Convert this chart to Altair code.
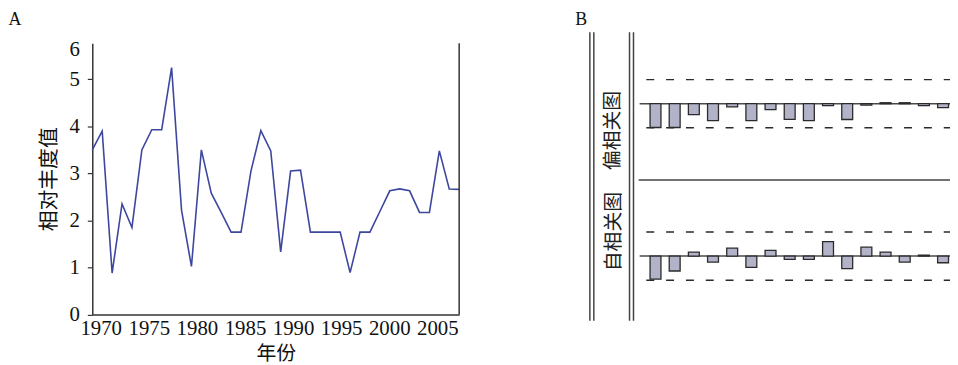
import altair as alt
import pandas as pd

# ---------------- data ----------------
years = list(range(1970, 2008))
abundance = [3.5, 3.9, 0.88, 2.35, 1.85, 3.5, 3.93, 3.93, 5.25, 2.22,
             1.02, 3.5, 2.58, 2.17, 1.75, 1.75, 3.05, 3.91, 3.48, 1.33,
             3.05, 3.07, 1.75, 1.75, 1.75, 1.75, 0.89, 1.75, 1.75, 2.19,
             2.63, 2.67, 2.63, 2.17, 2.17, 3.48, 2.67, 2.66]
x_ticks = [1970, 1975, 1980, 1985, 1990, 1995, 2000, 2005]
y_ticks = [0, 1, 2, 3, 4, 5, 5.64]

lags = list(range(1, 17))
pacf = [-0.316, -0.316, -0.145, -0.224, -0.043, -0.224, -0.08, -0.207,
        -0.224, -0.026, -0.21, -0.02, 0.013, 0.013, -0.026, -0.053]
acf = [-0.307, -0.198, 0.053, -0.079, 0.105, -0.149, 0.075, -0.044,
       -0.044, 0.193, -0.167, 0.118, 0.053, -0.079, 0.013, -0.088]
conf = [0.32, -0.32]
zero = [0.0]

panel_labels = ["A", "B"]
row_titles = ["偏相关图", "自相关图"]

W, H = 950, 357
SERIF = "Liberation Serif"
CJK = "Noto Sans CJK SC"
INK = "#333333"

dfA = pd.DataFrame({"year": years, "value": abundance})
dfP = pd.DataFrame({"lag": lags, "r": pacf})
dfC = pd.DataFrame({"lag": lags, "r": acf})
dfConf = pd.DataFrame({"c": conf})
dfZero = pd.DataFrame({"z": zero})

# ---------------- panel A ----------------
lineA = alt.Chart(dfA).mark_line(color="#3d479e", strokeWidth=1.6).encode(
    x=alt.X("year:Q",
            scale=alt.Scale(domain=[1970, 2007], range=[85, 455], nice=False, zero=False),
            axis=alt.Axis(values=x_ticks, format="d", ticks=False, grid=False,
                          labelFont=SERIF, labelFontSize=21, labelColor="#111",
                          labelPadding=3,
                          labelOffset={"expr": "8.5 - 0.3 * (datum.value - 1970)"},
                          labelFlush=False, labelOverlap=False,
                          domainColor=INK, domainWidth=1.5,
                          title="年份", titleFont=CJK, titleFontSize=20,
                          titleFontWeight="normal", titleColor="#111", titlePadding=5,
                          offset=-(H - 307.5))),
    y=alt.Y("value:Q",
            scale=alt.Scale(domain=[0, 5.77], range=[307.5, 34], nice=False, zero=False),
            axis=alt.Axis(values=y_ticks,
                          labelExpr="datum.value > 5.5 ? '6' : datum.label",
                          tickSize=5, tickColor=INK, tickWidth=1.2,
                          tickOpacity={"condition": {"test": "datum.value > 5.5", "value": 0}, "value": 1},
                          grid=False, labelFont=SERIF, labelFontSize=21, labelColor="#111",
                          labelPadding=8, labelFlush=False, labelOverlap=False,
                          domainColor=INK, domainWidth=1.5,
                          title="相对丰度值", titleFont=CJK, titleFontSize=21,
                          titleFontWeight="normal", titleColor="#111", titlePadding=10,
                          offset=-85)),
)
borderA = alt.Chart().mark_rule(color=INK, strokeWidth=1.5).encode(
    x=alt.value(455), y=alt.value(34), y2=alt.value(307.5))

# ---------------- panel B ----------------
def corr_panel(df, zero_px):
    unit = 75.9
    yscale = alt.Scale(domain=[-1, 1], range=[zero_px + unit, zero_px - unit], nice=False, zero=False)
    xscale = alt.Scale(domain=[1, 16], range=[648, 948], nice=False, zero=False)
    bars = alt.Chart(df).mark_bar(width=11, fill="#b2b2c9", stroke="#2b2b2b", strokeWidth=1.3).encode(
        x=alt.X("lag:Q", scale=xscale, axis=None),
        y=alt.Y("r:Q", scale=yscale, axis=None),
    )
    zline = alt.Chart(dfZero).mark_rule(color="#4a4a4a", strokeWidth=1.5).encode(
        y=alt.Y("z:Q", scale=yscale, axis=None), x=alt.value(637), x2=alt.value(W))
    dashes = alt.Chart(dfConf).mark_rule(color="#2b2b2b", strokeWidth=1.5, strokeDash=[8, 12]).encode(
        y=alt.Y("c:Q", scale=yscale, axis=None), x=alt.value(643.7), x2=alt.value(W))
    return alt.layer(zline, dashes, bars)

pacf_layer = corr_panel(dfP, 95)
acf_layer = corr_panel(dfC, 248.7)

def vline(xpx):
    return alt.Chart().mark_rule(color="#444444", strokeWidth=1.5).encode(
        x=alt.value(xpx), y=alt.value(23), y2=alt.value(314))

sep = alt.Chart().mark_rule(color="#444444", strokeWidth=1.5).encode(
    x=alt.value(636), x2=alt.value(W), y=alt.value(172))

row1 = alt.Chart(pd.DataFrame({"t": [row_titles[0]]})).mark_text(
    font=CJK, fontSize=20, angle=270, color="#222", align="center", baseline="middle").encode(
    text="t:N", x=alt.value(610), y=alt.value(122))
row2 = alt.Chart(pd.DataFrame({"t": [row_titles[1]]})).mark_text(
    font=CJK, fontSize=20, angle=270, color="#222", align="center", baseline="middle").encode(
    text="t:N", x=alt.value(611), y=alt.value(224))

labA = alt.Chart(pd.DataFrame({"t": [panel_labels[0]]})).mark_text(
    font=SERIF, fontSize=18, color="#111", align="center", baseline="middle").encode(
    text="t:N", x=alt.value(7), y=alt.value(10.5))
labB = alt.Chart(pd.DataFrame({"t": [panel_labels[1]]})).mark_text(
    font=SERIF, fontSize=18, color="#111", align="center", baseline="middle").encode(
    text="t:N", x=alt.value(578), y=alt.value(10.5))

chart = alt.layer(
    lineA, borderA, pacf_layer, acf_layer,
    vline(586.8), vline(590.8), vline(626.8), vline(630.8), sep,
    row1, row2, labA, labB,
).resolve_scale(x="independent", y="independent").properties(
    width=W, height=H, autosize=alt.AutoSizeParams(type="none"), padding=0,
    background="white",
).configure_view(stroke=None)

chart.save("out.html", embed_options={"renderer": "svg", "actions": False})
